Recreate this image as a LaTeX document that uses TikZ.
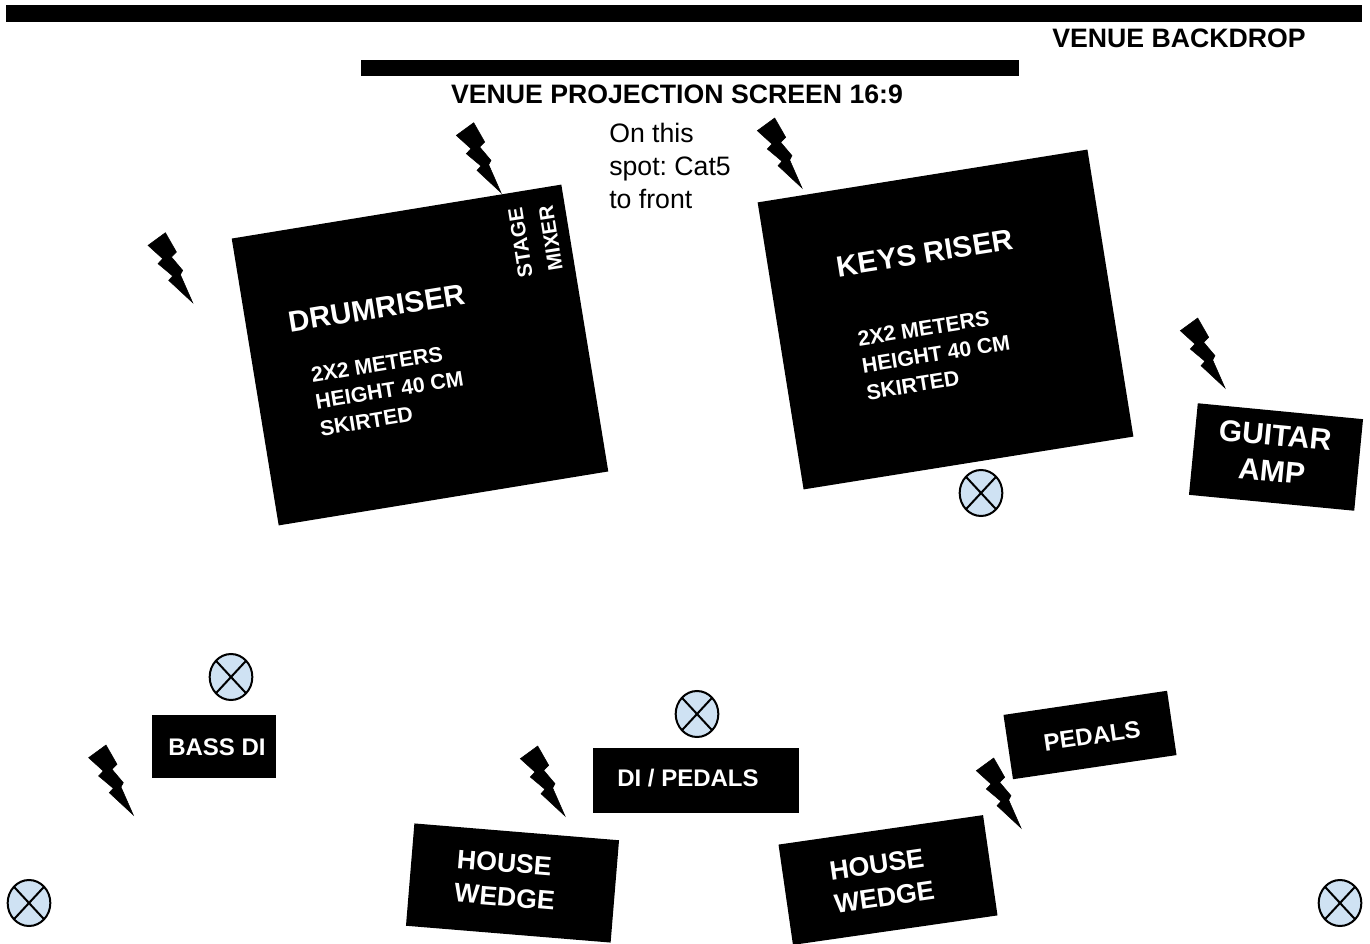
\documentclass[tikz,border=0pt]{standalone}
\usepackage{fontspec}
\setmainfont{Liberation Sans}
\frenchspacing
\usepackage{xcolor}
\definecolor{monitorblue}{HTML}{CFE2F3}
\usetikzlibrary{shapes.geometric}
\usetikzlibrary{positioning}
\tikzset{%
	riser/.style={
		draw=none, fill=black, shape=rectangle, inner sep=0pt
	},
	label/.style={
		text=white, inner sep=0pt, align=center, font=\bfseries\fontsize{22pt}{26pt}\selectfont
	},
	sublabel/.style={
		text=white, inner sep=0pt, align=left, font=\bfseries\fontsize{16pt}{20.5pt}\selectfont
	},
	heading/.style={
		inner sep=0pt, font=\bfseries\fontsize{20pt}{24pt}\selectfont
	},
	monitor/.style={
		draw, line width=1.5pt, fill=monitorblue, shape=ellipse, inner sep=0pt, minimum width=32pt, minimum height=34.5pt,
		path picture={
			\draw[line width=1.5pt] (path picture bounding box.south west) -- (path picture bounding box.north east);
			\draw[line width=1.5pt] (path picture bounding box.north west) -- (path picture bounding box.south east);
		}
	},
	bolt/.pic={
		\filldraw[line width=0.4pt] (0,0) -- (-12.3,-28) -- (-10,-32.3) -- (-21.3,-45.7) -- (-16.3,-50.7) -- (-27.3,-70) -- (-44.7,-57.3)
			-- (-30,-44) -- (-34.7,-39) -- (-20,-26.7) -- (-24,-22.3) -- cycle;
	}
}

\begin{document}
\begin{tikzpicture}[x=0.75pt, y=-0.75pt]
	\useasboundingbox (0,0) rectangle (1370,944);

	% Backdrop and screen
	\node[riser, minimum width=1016.6pt, minimum height=12.4pt] (backdrop) at (684,13.25) {};
	\node[riser, minimum width=493.5pt, minimum height=12pt] (screen) at (690,68) {};
	\node[heading] (backdroplabel) at (1179,38) {VENUE BACKDROP};
	\node[heading] (screenlabel) at (677,94) {VENUE PROJECTION SCREEN 16:9};
	\node[inner sep=0pt, align=left, font=\fontsize{20pt}{25pt}\selectfont, anchor=west] (cat) at (609,166) {On this\\spot: Cat5\\to front};

	% Risers
	\node[riser, rotate=9.3, minimum width=250.5pt, minimum height=218pt] (drumriser) at (420,355) {};
	\node[riser, rotate=9.1, minimum width=250.5pt, minimum height=218pt] (keysriser) at (945.5,319.5) {};
	\node[label, rotate=9.3] (drumlabel) at (377,308) {DRUMRISER};
	\node[sublabel, rotate=9.3] (drumsize) at (389.5,390) {2X2 METERS\\HEIGHT 40 CM\\SKIRTED};
	\node[label, rotate=99, font=\bfseries\fontsize{15.5pt}{23pt}\selectfont] (stagemixer) at (535.5,240.5) {STAGE\\MIXER};
	\node[label, rotate=9.1] (keyslabel) at (925,253) {KEYS RISER};
	\node[sublabel, rotate=9.1] (keyssize) at (936,354) {2X2 METERS\\HEIGHT 40 CM\\SKIRTED};

	% Band gear
	\node[riser, rotate=-5.5, minimum width=124.5pt, minimum height=69pt] (guitaramp) at (1276,457) {};
	\node[label, rotate=-5.5, font=\bfseries\fontsize{22.5pt}{27pt}\selectfont] (guitarlabel) at (1273.5,453) {GUITAR\\AMP};
	\node[riser, minimum width=93pt, minimum height=47.25pt] (bassdi) at (214,746.5) {};
	\node[label, font=\bfseries\fontsize{18pt}{22pt}\selectfont] (basslabel) at (217,747) {BASS DI};
	\node[riser, minimum width=154.5pt, minimum height=48.75pt] (dipedals) at (696,780.5) {};
	\node[label, font=\bfseries\fontsize{18pt}{22pt}\selectfont] (dilabel) at (688,778) {DI / PEDALS};
	\node[riser, rotate=8.4, minimum width=124pt, minimum height=48.75pt] (pedals) at (1090,735) {};
	\node[label, rotate=8.4, font=\bfseries\fontsize{18pt}{22pt}\selectfont] (pedalslabel) at (1092,736) {PEDALS};
	\node[riser, rotate=-4.7, minimum width=154pt, minimum height=77pt] (wedgeleft) at (512.5,883) {};
	\node[label, rotate=-4.7, align=left, font=\bfseries\fontsize{20pt}{25.5pt}\selectfont] (wedgeleftlabel) at (506,880) {HOUSE\\WEDGE};
	\node[riser, rotate=8.2, minimum width=155pt, minimum height=76pt] (wedgeright) at (888,880) {};
	\node[label, rotate=8.2, align=left, font=\bfseries\fontsize{20pt}{25pt}\selectfont] (wedgerightlabel) at (882,880.5) {HOUSE\\WEDGE};

	% Monitors
	\node[monitor] (monitora) at (231,677) {};
	\node[monitor] (monitorb) at (697,714) {};
	\node[monitor] (monitorc) at (981,493) {};
	\node[monitor] (monitord) at (29,903) {};
	\node[monitor] (monitore) at (1340,903) {};

	% Power
	\foreach \tipx/\tipy in {192.7/302.7, 501/192.7, 802/188, 1225/388, 133.3/815, 565/816, 1021/828}
		\pic at (\tipx,\tipy) {bolt};
\end{tikzpicture}
\end{document}
